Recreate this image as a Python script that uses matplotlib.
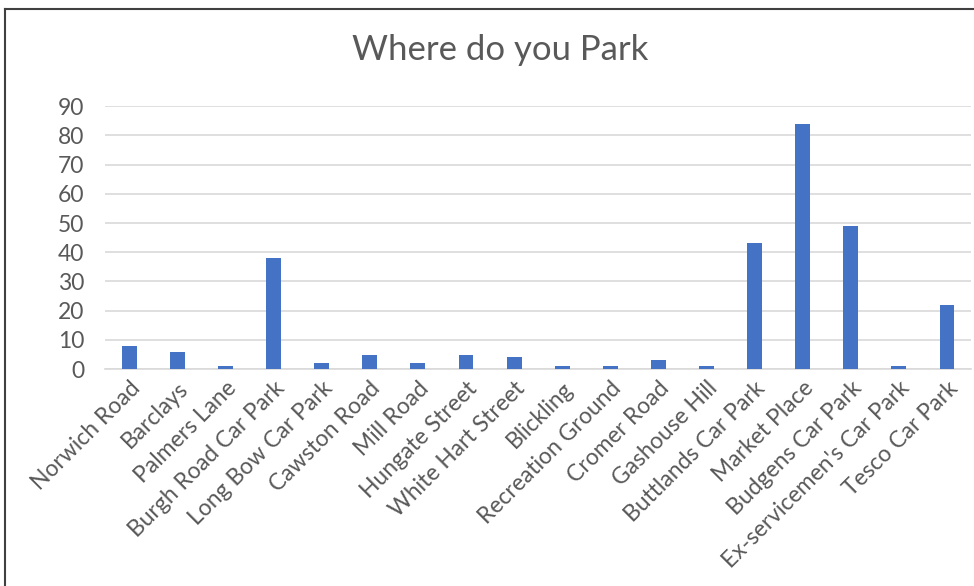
import matplotlib
matplotlib.use('Agg')
import matplotlib.pyplot as plt
from matplotlib.lines import Line2D

# 停车地点及人数
places = ['Norwich Road', 'Barclays', 'Palmers Lane', 'Burgh Road Car Park',
          'Long Bow Car Park', 'Cawston Road', 'Mill Road', 'Hungate Street',
          'White Hart Street', 'Blickling', 'Recreation Ground', 'Cromer Road',
          'Gashouse Hill', 'Buttlands Car Park', 'Market Place',
          'Budgens Car Park', "Ex-servicemen's Car Park", 'Tesco Car Park']
counts = [8, 6, 1, 38, 2, 5, 2, 5, 4, 1, 1, 3, 1, 43, 84, 49, 1, 22]
yticks = [0, 10, 20, 30, 40, 50, 60, 70, 80, 90]

plt.rcParams['font.family'] = ['Lato', 'DejaVu Sans']
grey = '#595959'

fig = plt.figure(figsize=(9.74, 5.86), dpi=100)
ax = fig.add_axes([0.108, 0.370, 0.889, 0.449])

x = range(len(places))
ax.bar(x, counts, width=0.31, color='#4472C4', zorder=3)
ax.set_xlim(-0.5, len(places) - 0.5)
ax.set_ylim(0, 90)
ax.set_yticks(yticks)
ax.set_yticklabels([str(v) for v in yticks], fontsize=16.5, color=grey)
ax.set_xticks(list(x))
ax.set_xticklabels(places, rotation=45, ha='right', rotation_mode='anchor',
                   fontsize=16.5, color=grey)
ax.tick_params(axis='both', length=0)
ax.tick_params(axis='y', pad=15)
ax.tick_params(axis='x', pad=6)
ax.grid(axis='y', color='#D9D9D9', linewidth=1.2, zorder=0)
for sp in ['top', 'right', 'left']:
    ax.spines[sp].set_visible(False)
ax.spines['bottom'].set_color('#D9D9D9')
ax.spines['bottom'].set_linewidth(1.2)

fig.text(0.514, 0.915, 'Where do you Park', ha='center', va='center',
         fontsize=25, color=grey)

# 截图边框 左/上
fig.add_artist(Line2D([5/974, 5/974], [0, 1 - 9/586], transform=fig.transFigure,
                      color='#404040', linewidth=1.5))
fig.add_artist(Line2D([5/974, 1], [1 - 9/586, 1 - 9/586], transform=fig.transFigure,
                      color='#404040', linewidth=1.5))

fig.savefig('out.png', dpi=100)
